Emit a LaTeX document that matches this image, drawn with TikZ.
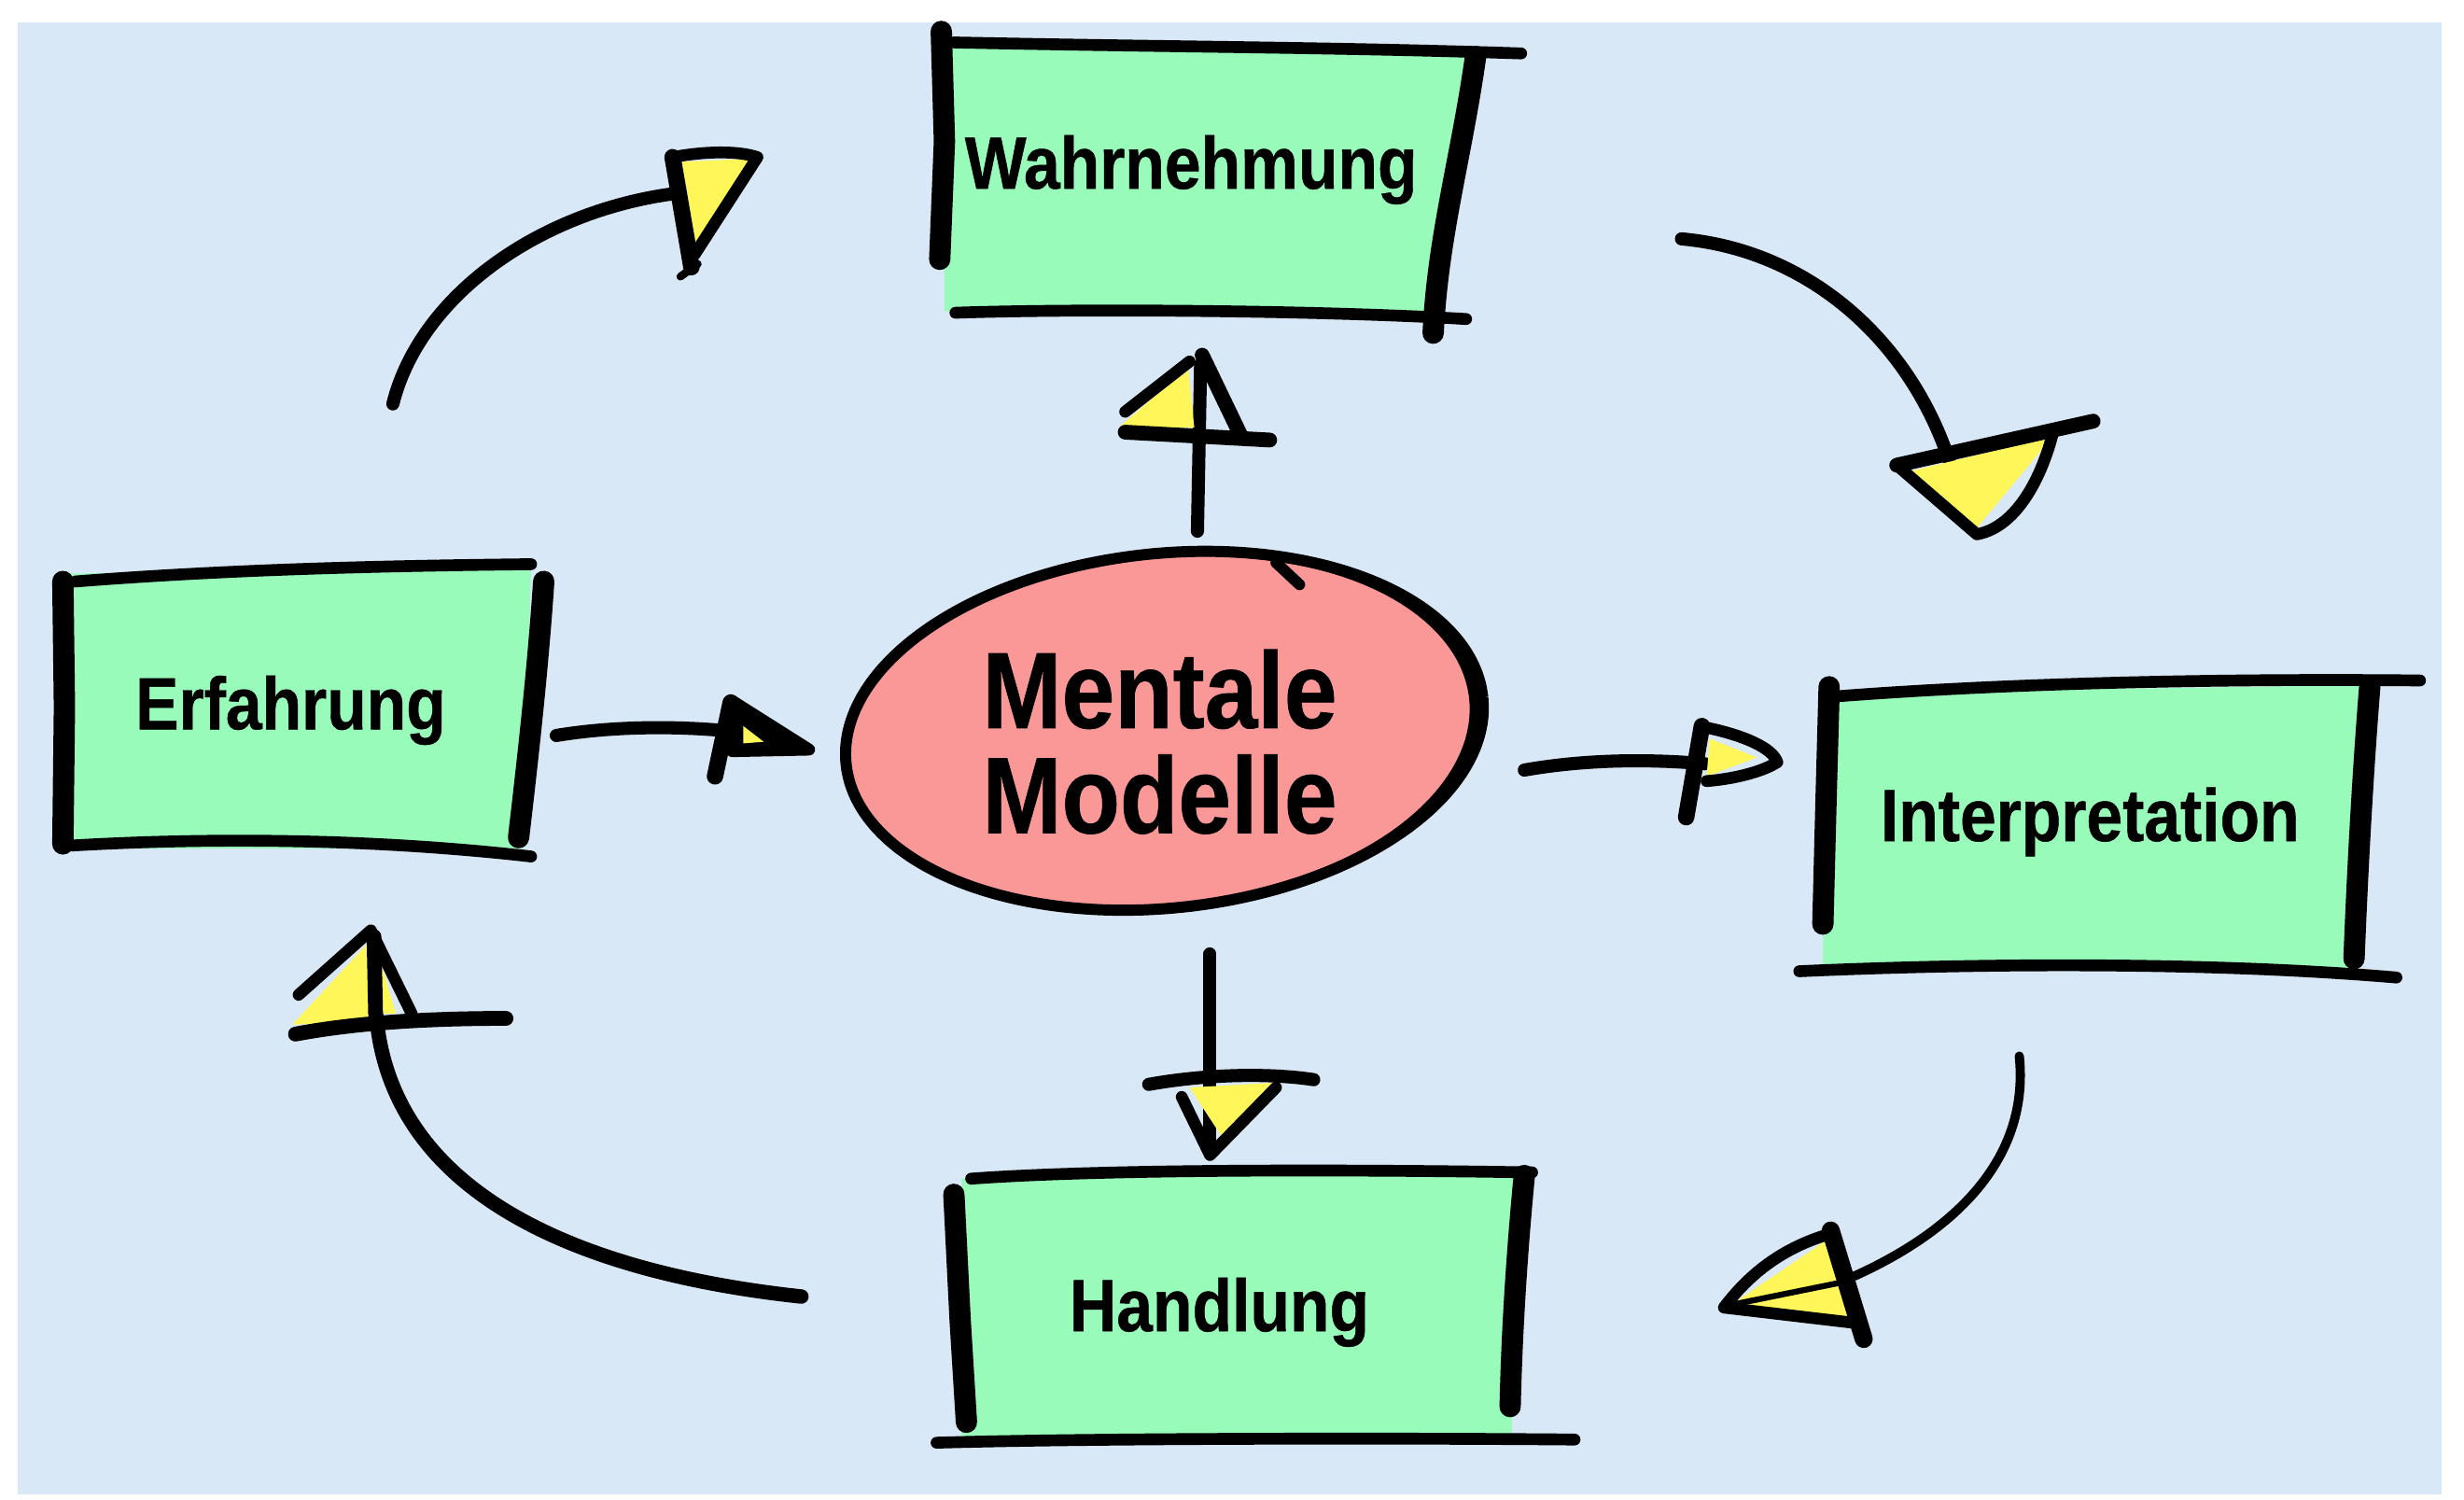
\documentclass[tikz,border=0pt]{standalone}
\usepackage{fontspec}
\setmainfont{Liberation Sans}[FakeStretch=0.88,BoldFeatures={FakeBold=0.6}]
\definecolor{bg}{HTML}{D8E8F7}
\definecolor{mint}{HTML}{98FBB9}
\definecolor{rose}{HTML}{FA9797}
\definecolor{hy}{HTML}{FFF65A}
\begin{document}
\begin{tikzpicture}[x=0.016837cm,y=-0.016837cm,
  bar/.style={line width=6.5pt,line cap=round,line join=round},
  rim/.style={line width=3.6pt,line cap=round},
  shaft/.style={line width=4pt,line cap=round},
  tipline/.style={line width=3.6pt,line cap=round,line join=round},
  lab/.style={font=\fontsize{22.5}{27}\selectfont\bfseries,inner sep=0pt},
  big/.style={font=\fontsize{33}{32}\selectfont\bfseries,inner sep=0pt,align=center},
  head/.style={fill=hy}]
\useasboundingbox (0,0) rectangle (1568,954);
\fill[white] (0,0) rectangle (1568,954);
\fill[bg] (11,14) rectangle (1554,951);

% ---------- Wahrnehmung ----------
\fill[mint] (601,24) -- (936,32) -- (910,198) -- (601,198) -- cycle;
\draw[bar] (599,20) -- (601,90) -- (598,165);
\draw[rim] (607,27) .. controls (750,30) and (850,30) .. (968,34);
\draw[bar] (939,36) .. controls (930,100) and (915,150) .. (912,212);
\draw[rim] (608,199) .. controls (700,196) and (850,198) .. (933,203);
\node[lab] (wahr) at (758,108) {Wahrnehmung};

% ---------- Erfahrung ----------
\fill[mint] (44,365) -- (338,360) -- (333,540) -- (44,540) -- cycle;
\draw[bar] (40,370) -- (41,450) -- (40,537);
\draw[rim] (48,370) .. controls (150,362) and (250,360) .. (338,359);
\draw[bar] (346,370) .. controls (342,430) and (335,490) .. (330,533);
\draw[rim] (46,538) .. controls (150,532) and (250,535) .. (338,545);
\node[lab] (erf) at (185,452) {Erfahrung};

% ---------- Interpretation ----------
\fill[mint] (1162,441) -- (1506,436) -- (1500,616) -- (1160,616) -- cycle;
\draw[bar] (1164,437) -- (1162,510) -- (1160,588);
\draw[rim] (1170,443) .. controls (1300,433) and (1450,432) .. (1540,433);
\draw[bar] (1508,437) .. controls (1503,500) and (1500,560) .. (1498,610);
\draw[rim] (1145,618) .. controls (1280,612) and (1420,613) .. (1525,622);
\node[lab] (interp) at (1330,523) {Interpretation};

% ---------- Handlung ----------
\fill[mint] (612,750) -- (968,747) -- (962,915) -- (612,915) -- cycle;
\draw[bar] (607,760) -- (611,840) -- (615,905);
\draw[rim] (618,750) .. controls (700,744) and (850,744) .. (975,746);
\draw[bar] (970,748) .. controls (965,800) and (962,850) .. (961,895);
\draw[rim] (596,918) .. controls (700,915) and (900,915) .. (1002,916);
\node[lab] (hand) at (776,835) {Handlung};

% ---------- Mentale Modelle ----------
\begin{scope}[shift={(741,465)},rotate=6]
  \draw[fill=rose,line width=3.4pt] plot[domain=0:360,samples=90,smooth cycle] ({203.7*cos(\x)}, {112.8*sin(\x)});
  \fill plot[domain=-75:75,samples=60] ({204*cos(\x)}, {112*sin(\x)})
     -- plot[domain=75:-75,samples=60] ({(200.5-5.5*cos(\x)^4)*cos(\x)}, {(109.5-5.5*cos(\x)^4)*sin(\x)}) -- cycle;
\end{scope}
\draw[line width=3.4pt,line cap=round] (812,358) -- (827,372);
\node[big] (mm) at (738,472) {Mentale\\Modelle};

% ---------- endpoints ----------
\coordinate (a1s) at (250,257);  \coordinate (a1e) at (440,122);
\coordinate (a2s) at (1070,152); \coordinate (a2e) at (1248,322);
\coordinate (a3s) at (1285,672); \coordinate (a3e) at (1180,812);
\coordinate (a4s) at (510,825);  \coordinate (a4e) at (239,640);
\coordinate (a5s) at (762,338);  \coordinate (a5e) at (764,232);
\coordinate (a6s) at (970,490);  \coordinate (a6e) at (1085,486);
\coordinate (a7s) at (770,607);  \coordinate (a7e) at (770,728);
\coordinate (a8s) at (354,468);  \coordinate (a8e) at (462,465);

% ---------- arrow 1: Erfahrung -> Wahrnehmung ----------
\draw[shaft] (a1s) .. controls (268,185) and (350,130) .. (a1e);
\fill[head] (432,103) -- (478,101) -- (441,160) -- cycle;
\draw[tipline,line width=5pt] (428,100) -- (440,170);
\draw[tipline] (428,100) .. controls (450,96) and (470,96) .. (482,100) -- (442,162);
\draw[tipline,line width=2.4pt] (433,176) -- (444,168);

% ---------- arrow 2: Wahrnehmung -> Interpretation ----------
\draw[shaft] (a2s) .. controls (1160,160) and (1230,230) .. (a2e);
\fill[head] (1215,300) -- (1306,278) -- (1258,336) -- cycle;
\draw[tipline,line width=4.5pt] (1207,296) -- (1332,268);
\draw[tipline] (1207,296) -- (1258,340) .. controls (1285,335) and (1300,300) .. (1306,277);

% ---------- arrow 3: Interpretation -> Handlung ----------
\draw[line width=2.8pt,line cap=round] (a3s) .. controls (1292,740) and (1240,785) .. (a3e);
\fill[head] (1164,788) -- (1180,845) -- (1099,832) -- cycle;
\draw[tipline,line width=5.5pt] (1165,783) -- (1186,852);
\draw[tipline] (1165,785) .. controls (1130,795) and (1110,815) .. (1097,832) -- (1182,842);
\draw[line width=1.8pt,line cap=round] (1103,830) -- (1172,816);

% ---------- arrow 4: Handlung -> Erfahrung ----------
\draw[shaft,line width=4.4pt] (a4s) .. controls (370,810) and (245,760) .. (a4e);
\fill[head] (186,652) -- (236,598) -- (238,650) -- cycle;
\fill[head] (243,615) -- (252,645) -- (243,645) -- cycle;
\draw[tipline] (190,633) -- (236,592) -- (262,645);
\draw[tipline,line width=4.5pt] (188,658) .. controls (230,650) and (280,648) .. (322,648);
\draw[tipline,line width=4.5pt] (238,596) -- (239,645);

% ---------- arrow 5: Mentale Modelle -> Wahrnehmung ----------
\draw[shaft] (a5s) -- (a5e);
\fill[head] (712,272) -- (756,234) -- (760,272) -- cycle;
\draw[tipline] (716,262) -- (757,230);
\draw[tipline,line width=4.5pt] (765,226) -- (790,278);
\draw[tipline,line width=4.5pt] (716,275) -- (808,280);

% ---------- arrow 6: Mentale Modelle -> Interpretation ----------
\draw[shaft] (a6s) .. controls (1010,483) and (1050,483) .. (a6e);
\fill[head] (1088,470) -- (1118,482) -- (1086,494) -- cycle;
\draw[tipline] (1086,463) .. controls (1110,468) and (1128,476) .. (1131,485) .. controls (1120,492) and (1100,496) .. (1086,497);
\draw[tipline,line width=5pt] (1083,462) -- (1073,520);

% ---------- arrow 7: Mentale Modelle -> Handlung ----------
\draw[shaft] (a7s) -- (a7e);
\fill[head] (757,692) -- (810,689) -- (778,724) -- cycle;
\draw[tipline,line width=4pt] (731,690) .. controls (770,683) and (810,683) .. (836,687);
\draw[tipline] (752,698) -- (770,735) -- (812,692);

% ---------- arrow 8: Erfahrung -> Mentale Modelle ----------
\draw[shaft] (a8s) .. controls (390,462) and (430,462) .. (a8e);
\fill[black] (466,446) -- (515,477) -- (458,480) -- cycle;
\fill[head] (473,462) -- (486,472) -- (473,473) -- cycle;
\draw[tipline] (466,446) -- (515,477) -- (466,478);
\draw[tipline,line width=5pt] (465,447) -- (455,494);
\end{tikzpicture}
\end{document}
